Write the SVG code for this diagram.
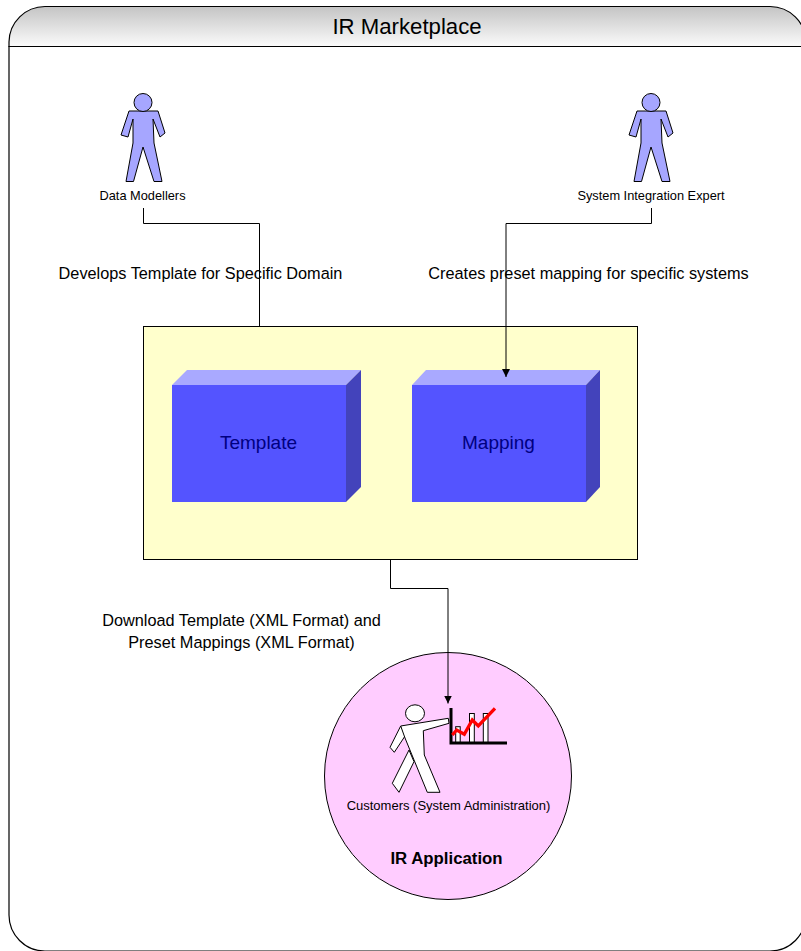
<svg xmlns="http://www.w3.org/2000/svg" width="801" height="951" viewBox="0 0 801 951">
<style>
text{font-family:"Liberation Sans",Arial,sans-serif;fill:#000;text-anchor:middle}
.s{font-size:12.800px}.m{font-size:16.300px}.l{font-size:19px;fill:#000080}
.conn{fill:none;stroke:#000;stroke-width:1}
.person{fill:#a6a6ff;stroke:#000;stroke-width:1}
.top{fill:#a9a9ff}.side{fill:#4343bb}.front{fill:#5454ff}
.cust{fill:#fff;stroke:#000;stroke-width:1}
</style>
<defs>
<linearGradient id="hdr" x1="0" y1="0" x2="0" y2="1"><stop offset="0" stop-color="#c4c4c4"/><stop offset="1" stop-color="#fbfbfb"/></linearGradient>
<marker id="arr" markerUnits="userSpaceOnUse" markerWidth="9" markerHeight="9" refX="8" refY="4" orient="auto"><path d="M0 0L8 4L0 8z" fill="#000"/></marker>
<g id="actor"><path class="person" d="M-14-73H15L22-51L17-47L10-65L11-41L19-2.500H11L0-37L-9.500-2.500H-17L-10-41L-10-65L-15-47L-22-49Z"/><circle cx="0" cy="-81.500" r="9" class="person"/></g>
</defs>
<g id="frame">
<path d="M9 46.500V42A36 36 0 0 1 45 6.500H770A36 36 0 0 1 806 42V46.500Z" fill="url(#hdr)" stroke="#000" stroke-width="1.200"/>
<path d="M9 46.500H806V915A36 36 0 0 1 770 951H45A36 36 0 0 1 9 915Z" fill="#fff" stroke="#000" stroke-width="1.200"/>
<text x="407" y="34" style="font-size:22.200px">IR Marketplace</text>
</g>
<g id="repository"><rect x="143.500" y="326.500" width="494" height="233" fill="#ffffcc" stroke="#000"/></g>
<g id="application"><circle cx="448" cy="776" r="123.500" fill="#ffccff" stroke="#000"/><text x="446.500" y="864" style="font-size:16.800px;font-weight:bold">IR Application</text></g>
<g id="data-modellers"><use href="#actor" x="143" y="184"/><text class="s" x="142.500" y="200">Data Modellers</text></g>
<g id="system-integration-expert"><use href="#actor" x="651" y="184"/><text class="s" x="651" y="200">System Integration Expert</text></g>
<g id="template"><path class="top" d="M172 385L187 370H361L346 385Z"/><path class="side" d="M346 385L361 370V487L346 502Z"/><rect class="front" x="172" y="385" width="174" height="117"/><text class="l" x="258.500" y="449">Template</text></g>
<g id="mapping"><path class="top" d="M412 385L426 370H600L586 385Z"/><path class="side" d="M586 385L600 370V487L586 502Z"/><rect class="front" x="412" y="385" width="174" height="117"/><text class="l" x="498.500" y="449">Mapping</text></g>
<g id="customers">
<path class="cust" d="M409 750L392.300 783.300L399 792.300L414 761.700Z"/>
<path class="cust" d="M400.700 726L390 747.300L394.300 752.300L405.700 735Z"/>
<path class="cust" d="M400.700 726L448.300 718.300L449 723.300L423.300 730.700L424.300 755L440 792.300H427.300L405 738Z"/>
<ellipse class="cust" cx="415" cy="713.300" rx="9.500" ry="8.500"/>
<rect class="cust" x="455.700" y="726.700" width="4.500" height="16.300"/><rect class="cust" x="469.500" y="713.500" width="4.800" height="29.500"/><rect class="cust" x="483.300" y="713.500" width="4.700" height="29.500"/>
<path d="M451 708V743H507" fill="none" stroke="#000" stroke-width="3"/>
<path d="M452.300 735L456.700 730L464.300 734.300L472.300 720L478.300 726L495 708.300" fill="none" stroke="#f00" stroke-width="3.300"/>
<text class="s" x="448.500" y="810" style="font-size:13px">Customers (System Administration)</text>
</g>
<g id="connectors">
<path class="conn" d="M143.500 208V223.500H259.500V326"/>
<path class="conn" d="M651.500 208V223.500H506V377" marker-end="url(#arr)"/>
<path class="conn" d="M390.500 560V588.500H448V703.500" marker-end="url(#arr)"/>
</g>
<g id="labels">
<text class="m" x="200.500" y="279">Develops Template for Specific Domain</text>
<text class="m" x="588.500" y="279">Creates preset mapping for specific systems</text>
<text class="m" x="241.500" y="626">Download Template (XML Format) and</text>
<text class="m" x="241.500" y="648">Preset Mappings (XML Format)</text>
</g>
</svg>
